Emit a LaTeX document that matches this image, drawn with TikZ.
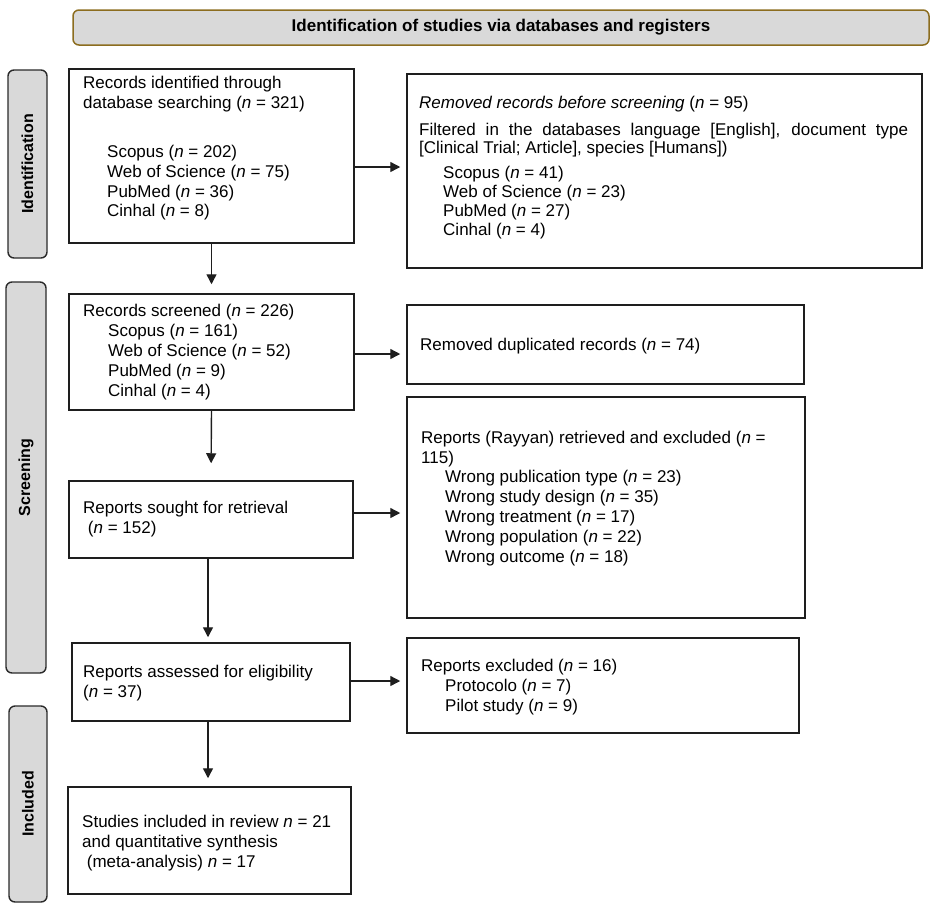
\documentclass[tikz,border=0pt]{standalone}
\usepackage{fontspec}
\setmainfont{Liberation Sans}
\usetikzlibrary{arrows.meta,calc}
\definecolor{lblfill}{HTML}{D9D9D9}
\definecolor{hdredge}{HTML}{8C6D1F}
\definecolor{boxedge}{HTML}{1E1E1E}
\definecolor{lbledge}{HTML}{2A2A2A}
\begin{document}
\begin{tikzpicture}[x=1pt,y=-1pt,
  box/.style={draw=boxedge, line width=1.5pt, fill=white, inner sep=0pt},
  lbl/.style={draw=lbledge, line width=1.4pt, fill=lblfill, rounded corners=6pt, inner sep=0pt, rotate=90,
              font=\fontsize{16}{18}\selectfont\bfseries},
  hdr/.style={draw=hdredge, line width=1.5pt, fill=lblfill, rounded corners=6pt, inner sep=0pt,
              font=\fontsize{17}{19}\selectfont\bfseries},
  txt/.style={anchor=base west, inner sep=0pt, font=\fontsize{17}{19.5}\selectfont},
  arr/.style={draw=boxedge, line width=1.4pt, -{Triangle[length=10pt,width=10pt]}}
]
\useasboundingbox (0,0) rectangle (935,906);

% header
\node[hdr, minimum width=856pt, minimum height=35pt] (hdr) at (501,27.5) {Identification of studies via databases and registers};

% phase labels
\node[lbl, minimum width=188pt, minimum height=39pt] (lid) at (27.5,164) {Identification};
\node[lbl, minimum width=391pt, minimum height=40pt] (lsc) at (26,477.5) {Screening};
\node[lbl, minimum width=196pt, minimum height=38pt] (lin) at (28,804) {Included};

% boxes
\node[box, minimum width=285pt, minimum height=174pt] (b1) at (211.5,156) {};
\node[box, minimum width=515pt, minimum height=194pt] (rem) at (664.5,171) {};
\node[box, minimum width=285pt, minimum height=116pt] (b2) at (211.5,352) {};
\node[box, minimum width=397pt, minimum height=79pt] (dup) at (605.5,344.5) {};
\node[box, minimum width=284pt, minimum height=77pt] (b3) at (211,519.5) {};
\node[box, minimum width=398pt, minimum height=221pt] (ray) at (606,507.5) {};
\node[box, minimum width=278pt, minimum height=78pt] (b4) at (211,682) {};
\node[box, minimum width=392pt, minimum height=95pt] (exc) at (603,685.5) {};
\node[box, minimum width=283pt, minimum height=107pt] (b5) at (209.5,840.5) {};

% box 1 text
\node[txt] (t1a) at (83,88) {Records identified through};
\node[txt] (t1b) at (83,108) {database searching (\textit{n} = 321)};
\node[txt] (t1c) at (107,157) {Scopus (\textit{n} = 202)};
\node[txt] (t1d) at (107,177) {Web of Science (\textit{n} = 75)};
\node[txt] (t1e) at (107,197) {PubMed (\textit{n} = 36)};
\node[txt] (t1f) at (107,216) {Cinhal (\textit{n} = 8)};

% removed records text
\node[txt] (tra) at (419,108) {\textit{Removed records before screening} (\textit{n} = 95)};
\node[txt] (trb) at (419,135) {\makebox[489pt][s]{Filtered in the databases language [English], document type}};
\node[txt] (trc) at (419,153) {[Clinical Trial; Article], species [Humans])};
\node[txt] (trd) at (443,178) {Scopus (\textit{n} = 41)};
\node[txt] (tre) at (443,197) {Web of Science (\textit{n} = 23)};
\node[txt] (trf) at (443,216) {PubMed (\textit{n} = 27)};
\node[txt] (trg) at (443,235) {Cinhal (\textit{n} = 4)};

% box 2 text
\node[txt] (t2a) at (83,316) {Records screened (\textit{n} = 226)};
\node[txt] (t2b) at (108,336) {Scopus (\textit{n} = 161)};
\node[txt] (t2c) at (108,356) {Web of Science (\textit{n} = 52)};
\node[txt] (t2d) at (108,376) {PubMed (\textit{n} = 9)};
\node[txt] (t2e) at (108,396) {Cinhal (\textit{n} = 4)};

% duplicates
\node[txt] (tda) at (420,350) {Removed duplicated records (\textit{n} = 74)};

% box 3 text
\node[txt] (t3a) at (83,513) {Reports sought for retrieval};
\node[txt] (t3b) at (83,533) {\ (\textit{n} = 152)};

% rayyan
\node[txt] (tya) at (421,443) {Reports (Rayyan) retrieved and excluded (\textit{n} =};
\node[txt] (tyb) at (421,463) {115)};
\node[txt] (tyc) at (445,482) {Wrong publication type (\textit{n} = 23)};
\node[txt] (tyd) at (445,502) {Wrong study design (\textit{n} = 35)};
\node[txt] (tye) at (445,522) {Wrong treatment (\textit{n} = 17)};
\node[txt] (tyf) at (445,542) {Wrong population (\textit{n} = 22)};
\node[txt] (tyg) at (445,562) {Wrong outcome (\textit{n} = 18)};

% box 4 text
\node[txt] (t4a) at (83,677) {Reports assessed for eligibility};
\node[txt] (t4b) at (83,697) {(\textit{n} = 37)};

% excluded text
\node[txt] (tea) at (421,671) {Reports excluded (\textit{n} = 16)};
\node[txt] (teb) at (445,691) {Protocolo (\textit{n} = 7)};
\node[txt] (tec) at (445,711) {Pilot study (\textit{n} = 9)};

% box 5 text
\node[txt] (t5a) at (82,827) {Studies included in review \textit{n} = 21};
\node[txt] (t5b) at (82,847) {and quantitative synthesis};
\node[txt] (t5c) at (82,867) {\ (meta-analysis) \textit{n} = 17};

% connectors
\coordinate (h1) at (0,167);
\coordinate (h2) at (0,354);
\coordinate (h3) at (0,513);
\coordinate (h4) at (0,681);
\draw[arr, shorten >=9pt] (b1.south) -- (b2.north);
\draw[arr, shorten >=6pt] (b1.east |- h1) -- (rem.west |- h1);
\draw[arr, shorten >=6pt] (b2.east |- h2) -- (dup.west |- h2);
\draw[arr, shorten >=17pt] (b2.south) -- (b3.north);
\draw[arr, shorten >=6pt] (b3.east |- h3) -- (ray.west |- h3);
\draw[arr, shorten >=5pt] ([xshift=-3pt]b3.south) -- ([xshift=-3pt]b3.south |- b4.north);
\draw[arr, shorten >=6pt] (b4.east |- h4) -- (exc.west |- h4);
\draw[arr, shorten >=8pt] ([xshift=-3pt]b4.south) -- ([xshift=-3pt]b4.south |- b5.north);
\end{tikzpicture}
\end{document}
